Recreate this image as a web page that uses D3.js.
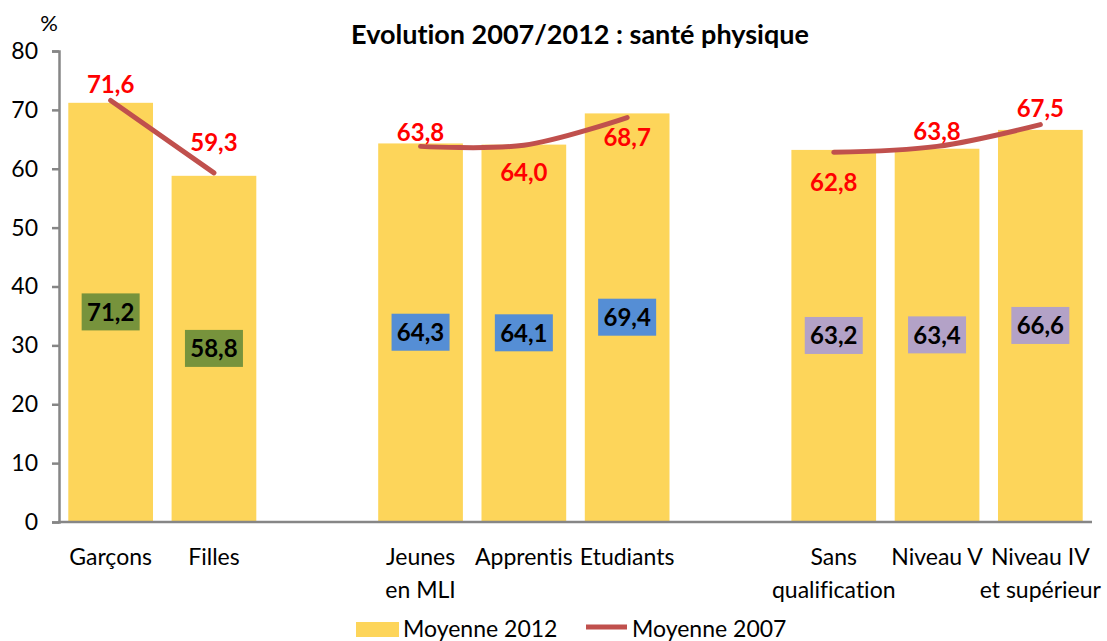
<!DOCTYPE html>
<html>
<head>
<meta charset="utf-8">
<script src="https://cdn.jsdelivr.net/npm/d3@7"></script>
<style>
  body { margin: 0; background: #fff; }
  svg { display: block; font-family: Lato, "Open Sans", sans-serif; font-variant-ligatures: none; }
</style>
</head>
<body>
<div id="chart"></div>
<script>
// categories (null = empty slot between groups)
const categories = [["Garçons"], ["Filles"], null, ["Jeunes", "en MLI"], ["Apprentis"], ["Etudiants"], null, ["Sans", "qualification"], ["Niveau V"], ["Niveau IV", "et supérieur"]]
const moyenne2012 = [71.2, 58.8, null, 64.3, 64.1, 69.4, null, 63.2, 63.4, 66.6]
const moyenne2007 = [71.6, 59.3, null, 63.8, 64.0, 68.7, null, 62.8, 63.8, 67.5]
const groups = ["sexe", "sexe", null, "statut", "statut", "statut", null, "niveau", "niveau", "niveau"]
const yTicks = [0, 10, 20, 30, 40, 50, 60, 70, 80]

// where the 2007 labels sit relative to the point (px, negative = above)
const label2007Offset = [-16, -30, -14, 27, 20, 30, -15, -16]

const W = 1107, H = 641
const boxColor = { sexe: "#77933C", statut: "#558ED5", niveau: "#B3A2C7" }

const svg = d3.select("#chart").append("svg")
  .attr("width", W)
  .attr("height", H)

const x = d3.scaleBand()
  .domain(d3.range(categories.length))
  .range([59, 1092])
  .paddingInner(0.18)
  .paddingOuter(0.09)

const y = d3.scaleLinear()
  .domain([0, 80])
  .range([522, 51])

const cx = i => x(i) + x.bandwidth() / 2

// title
svg.append("text")
  .attr("x", 580)
  .attr("y", 44)
  .attr("text-anchor", "middle")
  .attr("font-size", 27)
  .attr("font-weight", "bold")
  .text("Evolution 2007/2012 : santé physique")

svg.append("text")
  .attr("x", 49)
  .attr("y", 31)
  .attr("text-anchor", "middle")
  .attr("font-size", 22)
  .text("%")

// bars
const idx = d3.range(categories.length).filter(i => moyenne2012[i] != null)

svg.append("g")
  .selectAll("rect")
  .data(idx)
  .join("rect")
    .attr("x", i => x(i))
    .attr("width", x.bandwidth())
    .attr("y", i => y(moyenne2012[i]))
    .attr("height", i => y(0) - y(moyenne2012[i]))
    .attr("fill", "#FDD55A")

// y axis
const yAxis = svg.append("g")
  .attr("transform", "translate(59,0)")
  .call(d3.axisLeft(y).tickValues(yTicks).tickSize(7).tickPadding(14).tickFormat(d3.format("d")))
yAxis.select(".domain").attr("stroke", "#868686").attr("stroke-width", 2.5)
yAxis.selectAll(".tick line").attr("stroke", "#868686").attr("stroke-width", 2.5)
yAxis.selectAll(".tick text").attr("font-size", 23).attr("fill", "#000").attr("font-family", "Lato, sans-serif")

// x axis line
svg.append("line")
  .attr("x1", 58).attr("x2", 1092)
  .attr("y1", y(0)).attr("y2", y(0))
  .attr("stroke", "#868686")
  .attr("stroke-width", 2.5)

// category labels
const xl = svg.append("g")
  .attr("font-size", 23)
  .attr("text-anchor", "middle")
  .selectAll("text")
  .data(idx)
  .join("text")
    .attr("x", i => cx(i))
    .attr("y", 565)
xl.selectAll("tspan")
  .data(i => categories[i].map(t => ({ t, i })))
  .join("tspan")
    .attr("x", d => cx(d.i))
    .attr("dy", (d, k) => k === 0 ? 0 : 33)
    .text(d => d.t)

// 2012 value boxes at bar middle
const fmt = v => d3.format(".1f")(v).replace(".", ",")
const box = svg.append("g")
  .selectAll("g")
  .data(idx)
  .join("g")
    .attr("transform", i => `translate(${cx(i)},${y(moyenne2012[i] / 2)})`)
box.append("rect")
  .attr("x", -29).attr("y", -19)
  .attr("width", 58).attr("height", 37)
  .attr("fill", i => boxColor[groups[i]])
box.append("text")
  .attr("text-anchor", "middle")
  .attr("dy", "0.35em")
  .attr("font-size", 24)
  .attr("font-weight", "bold")
  .text(i => fmt(moyenne2012[i]))

// 2007 smooth line
const line = d3.line()
  .defined(i => moyenne2007[i] != null)
  .x(i => cx(i))
  .y(i => y(moyenne2007[i]))
  .curve(d3.curveCatmullRom.alpha(0.5))

svg.append("path")
  .datum(d3.range(categories.length))
  .attr("d", line)
  .attr("fill", "none")
  .attr("stroke", "#C0504D")
  .attr("stroke-width", 5)
  .attr("stroke-linecap", "round")

svg.append("g")
  .attr("font-size", 24)
  .attr("font-weight", "bold")
  .attr("fill", "#FF0000")
  .attr("text-anchor", "middle")
  .selectAll("text")
  .data(idx)
  .join("text")
    .attr("x", i => cx(i))
    .attr("y", (i, k) => y(moyenne2007[i]) + label2007Offset[k])
    .attr("dy", "0.35em")
    .text(i => fmt(moyenne2007[i]))

// legend
const leg = svg.append("g").attr("font-size", 23)
leg.append("rect")
  .attr("x", 356).attr("y", 622)
  .attr("width", 43).attr("height", 15)
  .attr("fill", "#FDD55A")
leg.append("text").attr("x", 403).attr("y", 637).text("Moyenne 2012")
leg.append("line")
  .attr("x1", 586).attr("x2", 627)
  .attr("y1", 627).attr("y2", 627)
  .attr("stroke", "#C0504D")
  .attr("stroke-width", 5)
leg.append("text").attr("x", 632).attr("y", 637).text("Moyenne 2007")
</script>
</body>
</html>
